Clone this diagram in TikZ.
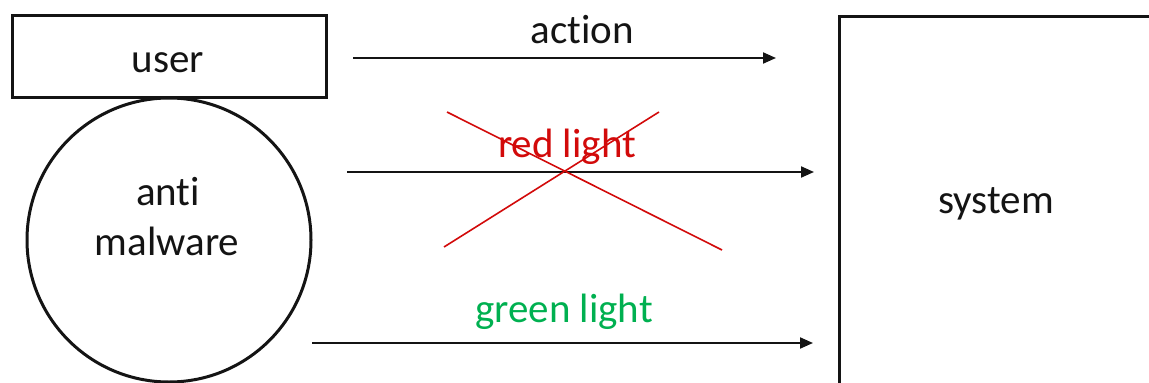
\documentclass[tikz,border=0pt]{standalone}
\usepackage{fontspec}
\setmainfont{Carlito}[Ligatures={NoCommon}]
\usetikzlibrary{arrows.meta}
\definecolor{redc}{RGB}{210,10,10}
\definecolor{greenc}{RGB}{0,176,80}
\definecolor{ink}{RGB}{20,20,20}
\tikzset{
  box/.style={draw=ink, line width=3pt, rectangle, inner sep=0pt},
  flow/.style={draw=ink, line width=2pt, -{Triangle[length=13pt,width=11pt]}},
  lbl/.style={font=\fontsize{41}{44}\selectfont, inner sep=0pt, anchor=base},
  cross/.style={draw=redc, line width=1.6pt}
}
\begin{document}
\begin{tikzpicture}[x=1pt,y=-1pt]
\useasboundingbox (0,0) rectangle (1149,383);
\clip (0,0) rectangle (1149,383);
\node[box, minimum width=314pt, minimum height=82pt] (user) at (169,56.5) {};
\node[box, circle, minimum size=284pt] (am) at (169,240) {};
\node[box, minimum width=316pt, minimum height=378pt] (system) at (997,205) {};
\node[lbl, text=ink] (usertxt) at (168,72) {user};
\node[lbl, text=ink] (antitxt) at (168,205) {anti};
\node[lbl, text=ink] (maltxt) at (167,255) {malware};
\node[lbl, text=ink] (systxt) at (996,213) {system};
\coordinate (a1s) at (353,58);
\coordinate (a1e) at (776,58);
\coordinate (a2s) at (347,172);
\coordinate (a2e) at (814,172);
\coordinate (a3s) at (312,343);
\coordinate (a3e) at (813,343);
\draw[flow] (a1s) -- (a1e);
\draw[flow] (a2s) -- (a2e);
\draw[flow] (a3s) -- (a3e);
\node[lbl, text=ink] (action) at (582,43) {action};
\node[lbl, text=redc] (red) at (567,157) {red light};
\node[lbl, text=greenc] (green) at (564,322) {green light};
\coordinate (c1a) at (447,112);
\coordinate (c1b) at (722,250);
\coordinate (c2a) at (659,112);
\coordinate (c2b) at (444,247);
\draw[cross] (c1a) -- (c1b);
\draw[cross] (c2a) -- (c2b);
\end{tikzpicture}
\end{document}
